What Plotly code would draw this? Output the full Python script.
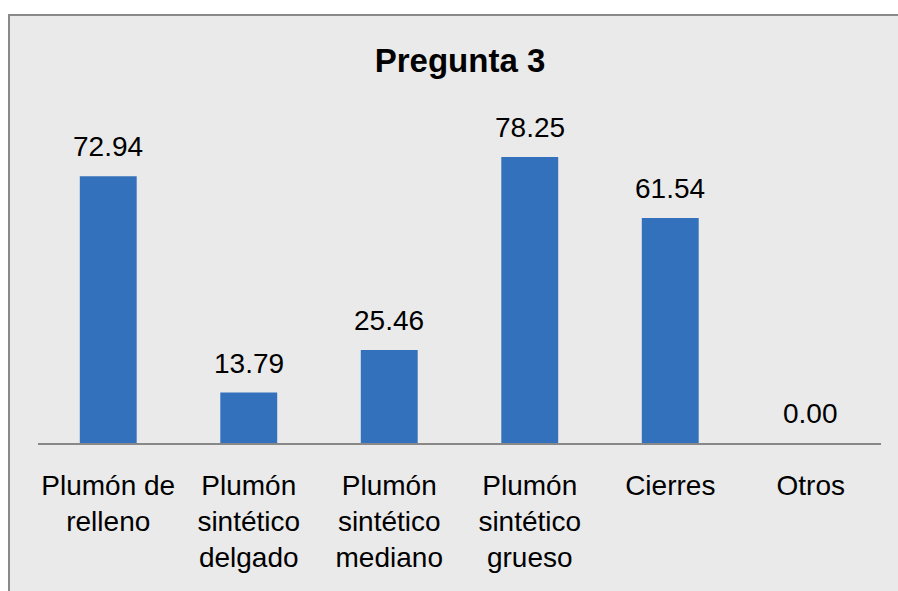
import plotly.graph_objects as go

categories = ["Plumón de<br>relleno", "Plumón<br>sintético<br>delgado", "Plumón<br>sintético<br>mediano",
              "Plumón<br>sintético<br>grueso", "Cierres", "Otros"]
values = [72.94, 13.79, 25.46, 78.25, 61.54, 0.00]
title_text = "Pregunta 3"

FONT = "Liberation Sans, Arial, sans-serif"

W, H = 898, 591
L, R, T, B = 38, 17, 114, 148
PH = H - T - B
PW = W - L - R

fig = go.Figure()
fig.add_trace(go.Bar(
    x=categories, y=values,
    marker=dict(color="#3471bd", line=dict(width=0)),
    hoverinfo="skip",
))

for c, v in zip(categories, values):
    fig.add_annotation(x=c, y=v, text=f"{v:.2f}", showarrow=False,
                       yanchor="bottom", yshift=12,
                       font=dict(family=FONT, size=28, color="#000000"))

# background panel with left/top border
fig.add_shape(type="rect", xref="paper", yref="paper",
              x0=(9 - L) / PW, x1=1.05, y0=-0.5, y1=(PH + T - 15) / PH,
              fillcolor="#eaeaea", line=dict(color="#8a8a8a", width=2), layer="below")

fig.update_layout(
    width=W, height=H,
    margin=dict(l=L, r=R, t=T, b=B),
    paper_bgcolor="#ffffff",
    plot_bgcolor="rgba(0,0,0,0)",
    bargap=0.595,
    showlegend=False,
    title=dict(text=f"<b>{title_text}</b>", x=460 / W, xanchor="center",
               y=1 - 60 / H, yanchor="middle",
               font=dict(family=FONT, size=33, color="#000000")),
    xaxis=dict(showline=True, linecolor="#888888", linewidth=2, ticks="",
               ticklabelstandoff=16,
               tickfont=dict(family=FONT, size=28, color="#000000"),
               showgrid=False, zeroline=False),
    yaxis=dict(range=[0, 90], visible=False, showgrid=False, zeroline=False),
)

fig.write_html("out.html", config={"displayModeBar": False},
               post_script="document.body.style.margin='0';document.body.style.overflow='hidden';")
